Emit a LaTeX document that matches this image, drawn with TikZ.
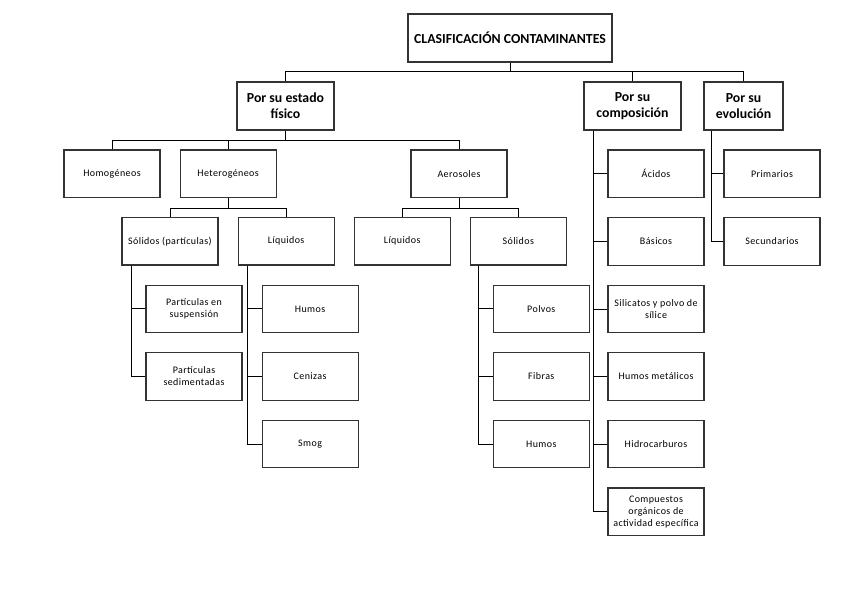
\documentclass[tikz,border=0pt]{standalone}
\usepackage{fontspec}
\setmainfont{Carlito}
\newfontfamily\boxfont[LetterSpace=4]{Carlito}
\usetikzlibrary{positioning}

\begin{document}
\begin{tikzpicture}[x=1pt, y=1pt, node distance=19pt,
  box/.style={draw=black!80, line width=1.1pt, minimum width=96pt, minimum height=47.5pt, inner sep=2pt, align=center, font=\boxfont\fontsize{10}{12}\selectfont},
  head/.style={box, minimum height=48pt, font=\fontsize{13.8}{15.6}\selectfont\bfseries},
  link/.style={draw=black, line width=0.9pt}]
\useasboundingbox (0,0) rectangle (848,-599);
\node[head, minimum width=204pt] (root) at (510,-38) {CLASIFICACIÓN CONTAMINANTES};
\node[head, minimum width=97pt] (fis) at (285.5,-106) {Por su estado\\físico};
\node[head, minimum width=97pt] (comp) at (632.5,-106) {Por su\\composición};
\node[head, minimum width=79pt] (evo) at (743.5,-106) {Por su\\evolución};
\node[box] (homo) at (112,-173.75) {Homogéneos};
\node[box, right=of homo] (hete) {Heterogéneos};
\node[box] (aero) at (459,-173.75) {Aerosoles};
\node[box] (solp) at (170,-241.25) {Sólidos (partículas)};
\node[box, right=of solp] (liqh) {Líquidos};
\node[box, right=of liqh] (liqa) {Líquidos};
\node[box, right=of liqa] (sola) {Sólidos};
\node[box, below=of solp, xshift=24pt] (psusp) {Partículas en\\suspensión};
\node[box, below=of psusp] (psed) {Partículas\\sedimentadas};
\node[box, below=of liqh, xshift=24pt] (humo1) {Humos};
\node[box, below=of humo1] (ceni) {Cenizas};
\node[box, below=of ceni] (smog) {Smog};
\node[box, below=of sola, xshift=23pt] (polv) {Polvos};
\node[box, below=of polv] (fibr) {Fibras};
\node[box, below=of fibr] (humo2) {Humos};
\node[box] (acid) at (656,-173.75) {Ácidos};
\node[box, below=of acid] (basi) {Básicos};
\node[box, below=of basi] (sili) {Silicatos y polvo de\\sílice};
\node[box, below=of sili] (hmet) {Humos metálicos};
\node[box, below=of hmet] (hidr) {Hidrocarburos};
\node[box, below=of hidr] (cmpt) {Compuestos\\orgánicos de\\actividad específica};
\node[box] (prim) at (772,-173.75) {Primarios};
\node[box, below=of prim] (secu) {Secundarios};
% tree lines
\draw[link] (root.south) -- ++(0,-9) -| (fis.north);
\draw[link] (root.south) -- ++(0,-9) -| (comp.north);
\draw[link] (root.south) -- ++(0,-9) -| (evo.north);
\draw[link] (fis.south) -- ++(0,-10) -| (homo.north);
\draw[link] (fis.south) -- ++(0,-10) -| (hete.north);
\draw[link] (fis.south) -- ++(0,-10) -| (aero.north);
\draw[link] (hete.south) -- ++(0,-10) -| (solp.north);
\draw[link] (hete.south) -- ++(0,-10) -| (liqh.north);
\draw[link] (aero.south) -- ++(0,-10) -| (liqa.north);
\draw[link] (aero.south) -- ++(0,-10) -| (sola.north);
% side lines
\draw[link] ([xshift=10pt]solp.south west) |- (psusp.west);
\draw[link] ([xshift=10pt]solp.south west) |- (psed.west);
\draw[link] ([xshift=10pt]liqh.south west) |- (humo1.west);
\draw[link] ([xshift=10pt]liqh.south west) |- (ceni.west);
\draw[link] ([xshift=10pt]liqh.south west) |- (smog.west);
\draw[link] ([xshift=9pt]sola.south west) |- (polv.west);
\draw[link] ([xshift=9pt]sola.south west) |- (fibr.west);
\draw[link] ([xshift=9pt]sola.south west) |- (humo2.west);
\draw[link] ([xshift=10pt]comp.south west) |- (acid.west);
\draw[link] ([xshift=10pt]comp.south west) |- (basi.west);
\draw[link] ([xshift=10pt]comp.south west) |- (sili.west);
\draw[link] ([xshift=10pt]comp.south west) |- (hmet.west);
\draw[link] ([xshift=10pt]comp.south west) |- (hidr.west);
\draw[link] ([xshift=10pt]comp.south west) |- (cmpt.west);
\draw[link] ([xshift=8pt]evo.south west) |- (prim.west);
\draw[link] ([xshift=8pt]evo.south west) |- (secu.west);
\end{tikzpicture}
\end{document}
